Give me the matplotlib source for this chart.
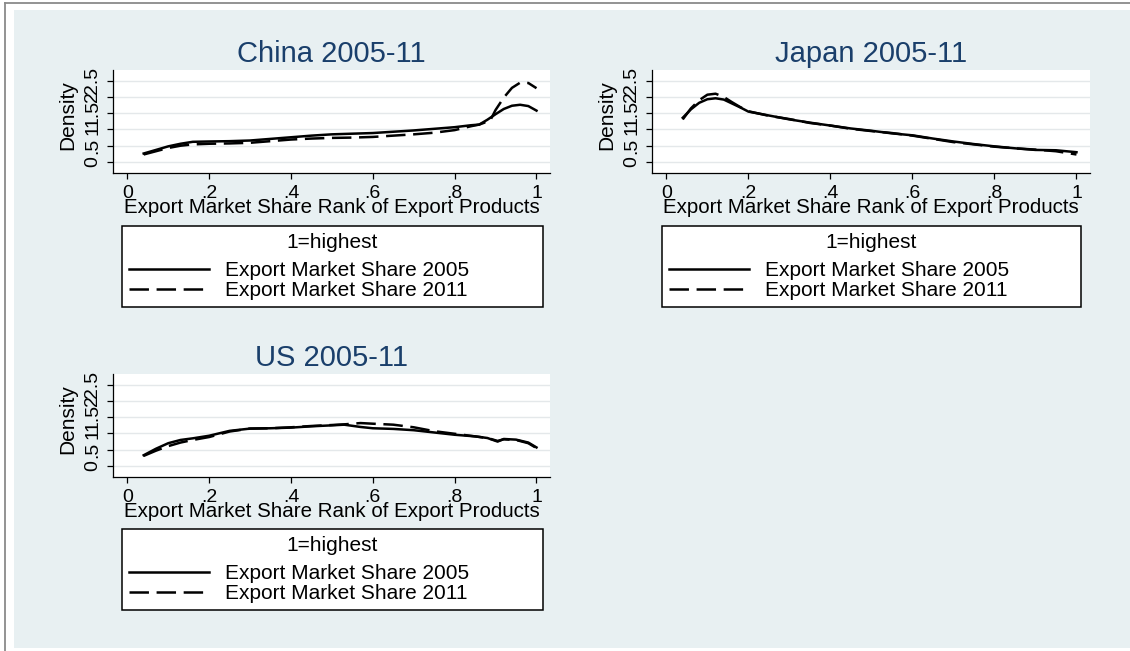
import matplotlib
matplotlib.use("Agg")
import matplotlib.pyplot as plt
from matplotlib.patches import Rectangle
from matplotlib.lines import Line2D

# ---- data: kernel density of export market share rank (1 = highest) ----
china_x05 = [0.04, 0.07, 0.10, 0.13, 0.16, 0.20, 0.25, 0.30, 0.35, 0.40, 0.45, 0.50, 0.55,
             0.60, 0.65, 0.70, 0.75, 0.80, 0.84, 0.86, 0.88, 0.90, 0.92, 0.94, 0.96, 0.98, 1.00]
china_y05 = [0.26, 0.37, 0.48, 0.56, 0.62, 0.63, 0.64, 0.66, 0.71, 0.76, 0.81, 0.85, 0.87,
             0.89, 0.93, 0.97, 1.02, 1.07, 1.13, 1.15, 1.30, 1.47, 1.63, 1.73, 1.76, 1.72, 1.58]
china_x11 = [0.04, 0.07, 0.10, 0.13, 0.16, 0.20, 0.25, 0.30, 0.35, 0.40, 0.45, 0.50, 0.55,
             0.60, 0.65, 0.70, 0.75, 0.80, 0.84, 0.86, 0.875, 0.885, 0.90, 0.92, 0.94, 0.96, 0.98, 1.00]
china_y11 = [0.23, 0.33, 0.43, 0.50, 0.54, 0.56, 0.57, 0.59, 0.64, 0.69, 0.72, 0.74, 0.75,
             0.77, 0.81, 0.85, 0.90, 0.98, 1.10, 1.15, 1.22, 1.23, 1.60, 1.98, 2.28, 2.44, 2.43, 2.27]

japan_x05 = [0.04, 0.06, 0.08, 0.10, 0.12, 0.14, 0.16, 0.18, 0.20, 0.25, 0.30, 0.35, 0.40,
             0.45, 0.50, 0.55, 0.60, 0.65, 0.70, 0.75, 0.80, 0.85, 0.90, 0.95, 1.00]
japan_y05 = [1.36, 1.62, 1.82, 1.93, 1.96, 1.92, 1.80, 1.68, 1.55, 1.43, 1.31, 1.21, 1.12,
             1.03, 0.96, 0.88, 0.82, 0.72, 0.63, 0.55, 0.48, 0.42, 0.37, 0.36, 0.30]
japan_x11 = [0.04, 0.06, 0.08, 0.10, 0.12, 0.14, 0.16, 0.18, 0.20, 0.25, 0.30, 0.35, 0.40,
             0.45, 0.50, 0.55, 0.60, 0.65, 0.70, 0.75, 0.80, 0.85, 0.90, 0.95, 1.00]
japan_y11 = [1.31, 1.65, 1.90, 2.07, 2.10, 2.00, 1.84, 1.69, 1.56, 1.42, 1.32, 1.20, 1.12,
             1.02, 0.95, 0.89, 0.81, 0.71, 0.61, 0.54, 0.47, 0.42, 0.38, 0.33, 0.23]

us_x05 = [0.04, 0.07, 0.10, 0.13, 0.16, 0.20, 0.25, 0.30, 0.35, 0.40, 0.45, 0.50, 0.53, 0.57,
          0.60, 0.65, 0.70, 0.75, 0.80, 0.85, 0.88, 0.905, 0.92, 0.95, 0.98, 1.00]
us_y05 = [0.33, 0.53, 0.70, 0.80, 0.85, 0.93, 1.08, 1.15, 1.16, 1.18, 1.22, 1.25, 1.27, 1.20,
          1.16, 1.14, 1.10, 1.03, 0.96, 0.91, 0.86, 0.75, 0.83, 0.81, 0.72, 0.57]
us_x11 = [0.04, 0.07, 0.10, 0.13, 0.16, 0.20, 0.25, 0.30, 0.35, 0.40, 0.45, 0.50, 0.53, 0.57,
          0.60, 0.65, 0.70, 0.75, 0.80, 0.85, 0.88, 0.905, 0.92, 0.95, 0.98, 1.00]
us_y11 = [0.31, 0.47, 0.61, 0.72, 0.80, 0.89, 1.06, 1.15, 1.16, 1.19, 1.23, 1.26, 1.28, 1.32,
          1.30, 1.27, 1.19, 1.07, 0.99, 0.91, 0.86, 0.77, 0.82, 0.80, 0.70, 0.55]

panel_titles = ["China 2005-11", "Japan 2005-11", "US 2005-11"]
series_labels = ["Export Market Share 2005", "Export Market Share 2011"]
legend_title = "1=highest"
x_ticks = [0, 0.2, 0.4, 0.6, 0.8, 1.0]
x_tick_labels = ["0", ".2", ".4", ".6", ".8", "1"]
y_ticks = [0, 0.5, 1.0, 1.5, 2.0, 2.5]
y_tick_labels = ["0", ".5", "1", "1.5", "2", "2.5"]
x_label = "Export Market Share Rank of Export Products"
y_label = "Density"

# ---- style ----
plt.rcParams["font.family"] = ["Liberation Sans", "DejaVu Sans"]
plt.rcParams["lines.scale_dashes"] = False

W, H = 1130, 651
DPI = 100
BG = "#E8F0F2"
TITLE_C = "#1A3F6B"
GRID_C = "#E4E8EA"

fig = plt.figure(figsize=(W / DPI, H / DPI), dpi=DPI, facecolor="white")


def fx(px):
    return px / W


def fy(py):
    return 1 - py / H


# outer frame and graph region
fig.add_artist(Rectangle((fx(14), fy(648)), fx(1130) - fx(14), fy(10) - fy(648),
                         transform=fig.transFigure, facecolor=BG, edgecolor="none", zorder=0))
fig.add_artist(Line2D([fx(5), fx(1130)], [fy(3), fy(3)], transform=fig.transFigure,
                      color="#8A8A8A", lw=1.3))
fig.add_artist(Line2D([fx(5), fx(5)], [fy(3), fy(651)], transform=fig.transFigure,
                      color="#8A8A8A", lw=1.3))

# panel boxes in pixels: (left, top, right, bottom)
panels = [
    (113, 70, 550, 173),
    (652, 70, 1090, 173),
    (113, 374, 550, 477),
]
legend_boxes = [
    (122, 226, 543, 307),
    (662, 226, 1081, 307),
    (122, 529, 543, 610),
]
series = [
    (china_x05, china_y05, china_x11, china_y11),
    (japan_x05, japan_y05, japan_x11, japan_y11),
    (us_x05, us_y05, us_x11, us_y11),
]

for (l, t, r, b), (lb_l, lb_t, lb_r, lb_b), title, (xa, ya, xb, yb) in zip(
        panels, legend_boxes, panel_titles, series):
    ax = fig.add_axes([fx(l), fy(b), fx(r) - fx(l), fy(t) - fy(b)])
    ax.set_facecolor("white")
    ax.set_xlim(-0.035, 1.033)
    ax.set_ylim(-0.34, 2.83)

    h1, = ax.plot(xa, ya, color="black", lw=1.8, solid_joinstyle="round",
                  label=series_labels[0], zorder=3)
    h2, = ax.plot(xb, yb, color="black", lw=1.8, linestyle=(0, (14, 5.5)),
                  label=series_labels[1], zorder=3)

    for s in ("top", "right"):
        ax.spines[s].set_visible(False)
    for s in ("left", "bottom"):
        ax.spines[s].set_color("black")
        ax.spines[s].set_linewidth(0.9)

    ax.set_xticks(x_ticks)
    ax.set_xticklabels(x_tick_labels)
    ax.set_yticks(y_ticks)
    ax.set_yticklabels(y_tick_labels, va="center")
    ax.tick_params(axis="x", length=4.3, width=0.9, pad=4.5, labelsize=14)
    ax.tick_params(axis="y", length=4.3, width=0.9, pad=4.0, labelsize=14, labelrotation=90)
    ax.yaxis.grid(True, color=GRID_C, lw=1.0)
    ax.set_axisbelow(True)

    ax.set_title(title, fontsize=21, color=TITLE_C, pad=5.8)

    h = b - t
    ax.set_xlabel(x_label, fontsize=14.8)
    ax.xaxis.set_label_coords(0.5, -40 / h)
    ax.xaxis.label.set_va("baseline")
    ax.set_ylabel(y_label, fontsize=15)
    ax.yaxis.set_label_coords(-40 / (r - l), 58 / h)
    ax.yaxis.label.set_va("baseline")

    leg = fig.legend(handles=[h1, h2], title=legend_title,
                     loc="upper left",
                     bbox_to_anchor=(fx(lb_l), fy(lb_b), fx(lb_r) - fx(lb_l), fy(lb_t) - fy(lb_b)),
                     bbox_transform=fig.transFigure, mode="expand", borderaxespad=0,
                     fontsize=15, title_fontsize=15, frameon=True, fancybox=False,
                     framealpha=1, edgecolor="black", facecolor="white",
                     handlelength=3.85, handletextpad=0.77, borderpad=0.32,
                     labelspacing=0.03)
    # a little more room between the legend title and its entries
    leg._legend_box.sep = 7
    leg.get_frame().set_linewidth(1.1)

fig.savefig("out.png", dpi=DPI, facecolor="white")
